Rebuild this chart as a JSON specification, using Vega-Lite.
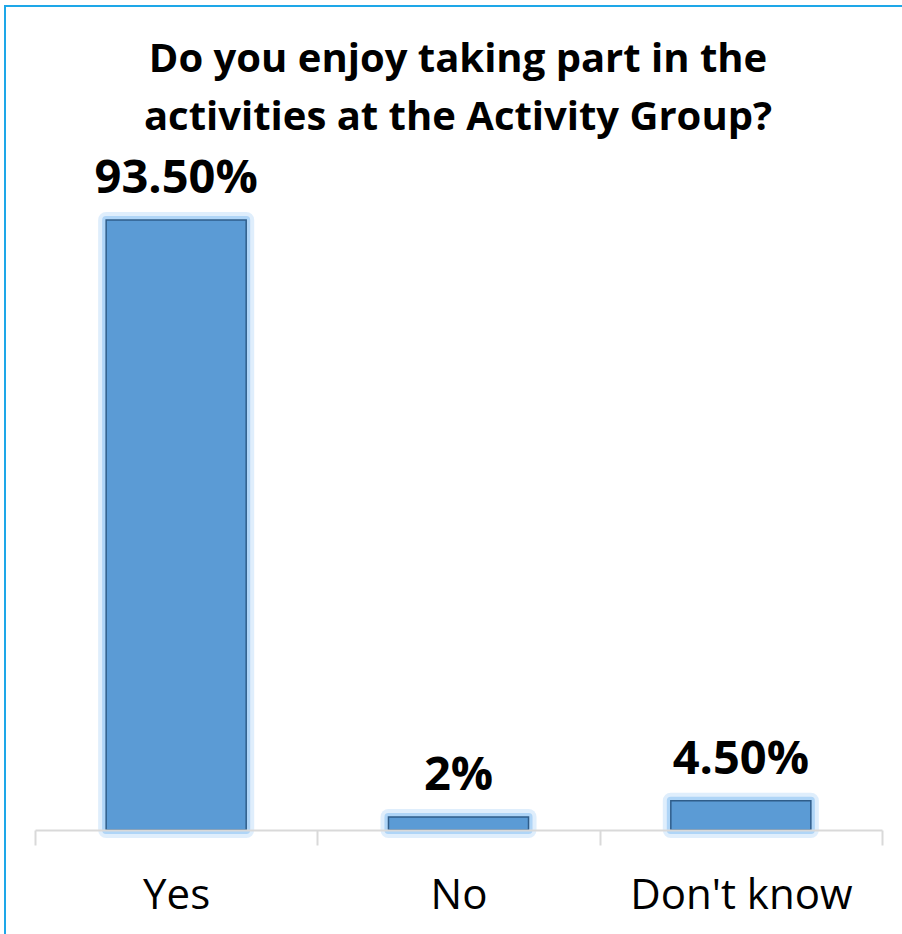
{
  "$schema": "https://vega.github.io/schema/vega-lite/v6.json",
  "width": 900,
  "height": 937,
  "autosize": {"type": "none"},
  "padding": {"left": 5, "top": 6, "right": 0, "bottom": 0},
  "background": "white",
  "title": {
    "text": ["Do you enjoy taking part in the", "activities at the Activity Group?"],
    "font": "Open Sans",
    "fontSize": 40,
    "fontWeight": "bold",
    "color": "#000000",
    "lineHeight": 58,
    "anchor": "middle",
    "baseline": "alphabetic",
    "offset": -164,
    "dx": 3
  },
  "config": {"view": {"stroke": "#1ea7e8", "strokeWidth": 2}},
  "data": {
    "values": [
      {"answer": "Yes", "percent": 93.5, "label": "93.50%"},
      {"answer": "No", "percent": 2, "label": "2%"},
      {"answer": "Don't know", "percent": 4.5, "label": "4.50%"}
    ]
  },
  "encoding": {
    "x": {
      "field": "answer",
      "type": "nominal",
      "sort": ["Yes", "No", "Don't know"],
      "scale": {"range": [30, 877], "paddingInner": 0, "paddingOuter": 0},
      "axis": {
        "title": null,
        "orient": "bottom",
        "offset": -113,
        "zindex": 1,
        "domainColor": "#d9d9d9",
        "domainWidth": 2,
        "tickColor": "#d9d9d9",
        "tickWidth": 2,
        "tickSize": 15,
        "tickBand": "extent",
        "labelFont": "Open Sans",
        "labelFontSize": 42,
        "labelColor": "#000000",
        "labelAngle": 0,
        "labelPadding": 63,
        "labelBaseline": "alphabetic",
        "labelLimit": 500
      }
    },
    "y": {
      "field": "percent",
      "type": "quantitative",
      "scale": {"domain": [-17.32, 126.3], "nice": false, "zero": false},
      "axis": null
    }
  },
  "layer": [
    {"mark": {"type": "bar", "width": {"band": 0.496}, "fill": "#7fbcf2", "fillOpacity": 0, "stroke": "#7fbcf2", "strokeWidth": 16, "strokeOpacity": 0.25, "strokeJoin": "round"}},
    {"mark": {"type": "bar", "width": {"band": 0.496}, "fill": "#7fbcf2", "fillOpacity": 0, "stroke": "#7fbcf2", "strokeWidth": 8, "strokeOpacity": 0.5, "strokeJoin": "round"}},
    {"mark": {"type": "bar", "width": {"band": 0.496}, "fill": "#5b9bd5", "stroke": "#2f5d8a", "strokeWidth": 1.5}},
    {
      "mark": {"type": "text", "dy": -27, "baseline": "alphabetic", "font": "Open Sans", "fontSize": 47, "fontWeight": "bold", "color": "#000000"},
      "encoding": {"text": {"field": "label"}}
    }
  ]
}
